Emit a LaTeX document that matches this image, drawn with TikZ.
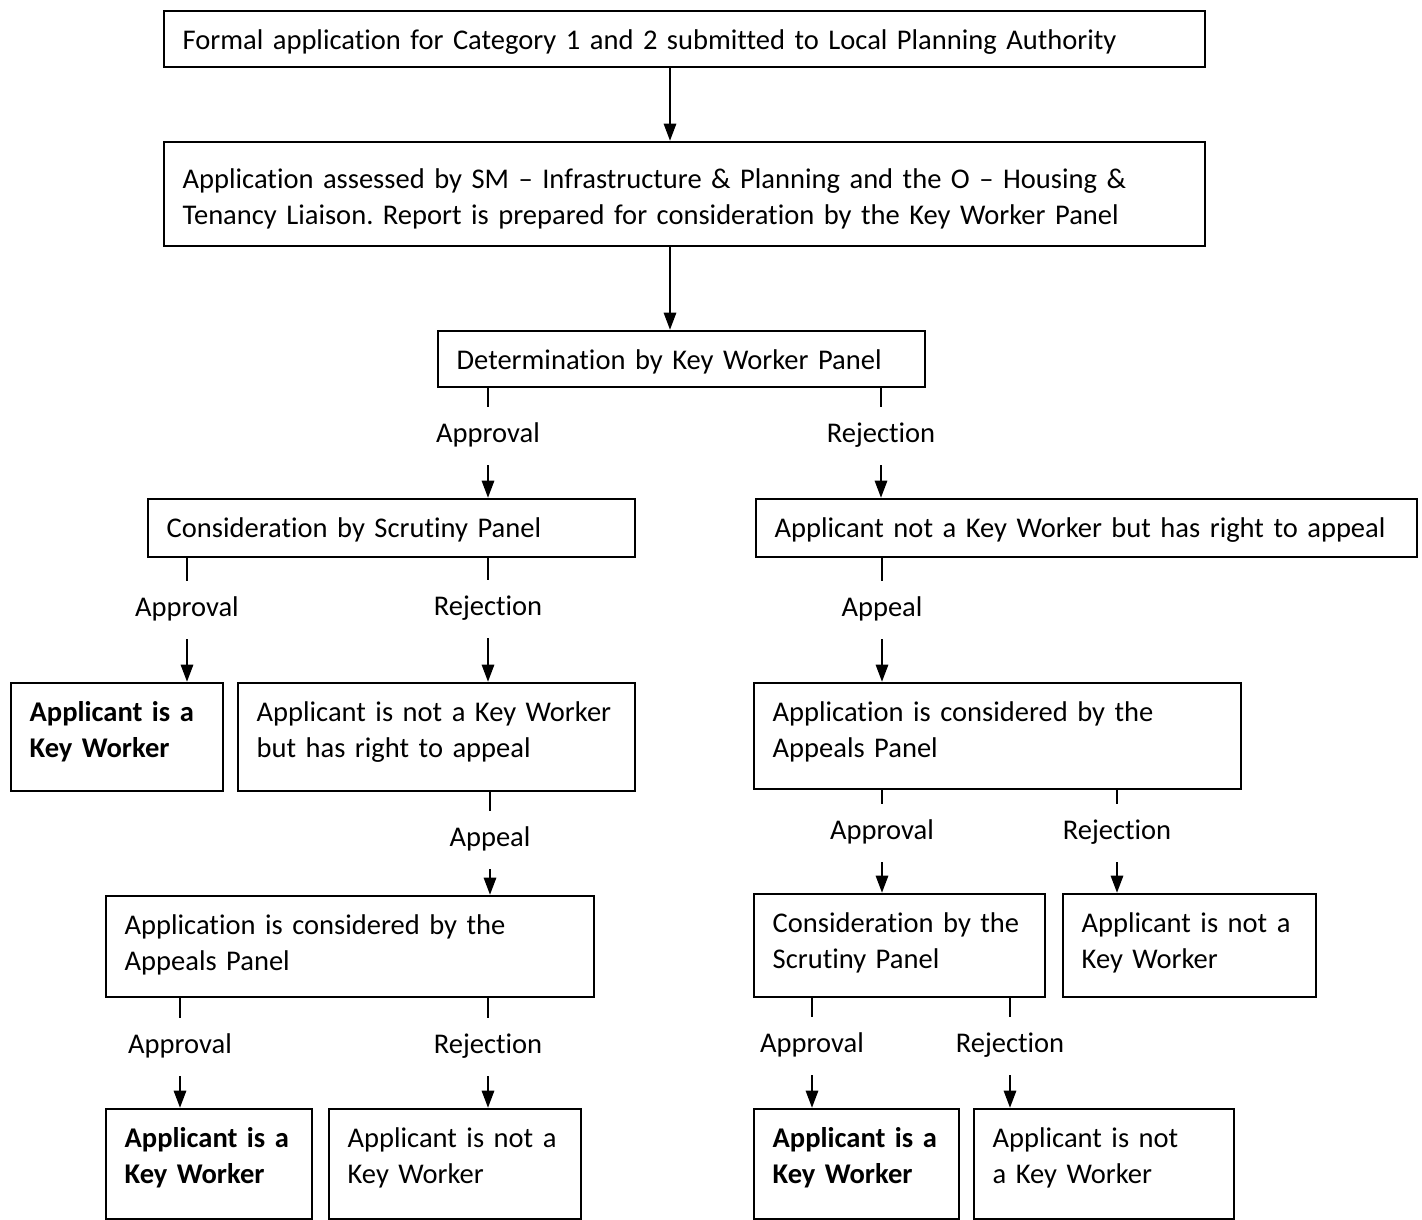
\documentclass[tikz,border=0pt]{standalone}
\usepackage{fontspec}
\setmainfont{Carlito}[Ligatures=NoCommon]
\usetikzlibrary{arrows.meta}

\newcommand{\chartfont}{\fontsize{10.7pt}{13.4pt}\selectfont\frenchspacing}

\tikzset{
  box/.style 2 args={draw, line width=0.75pt, anchor=north west, align=left,
    inner xsep=7pt, inner ysep=0pt, text width=#1*0.375pt-14pt,
    text height=14.6pt, text depth=#2*0.375pt-14.6pt, font=\chartfont},
  lbl/.style={inner xsep=1pt, inner ysep=5.7pt, text height=7.5pt, text depth=2.5pt,
    font=\chartfont},
  stub/.style={line width=1.1pt},
  arr/.style={line width=1.1pt, -{Triangle[length=6.5pt,width=4.5pt]}}
}

\begin{document}
\begin{tikzpicture}[x=0.375pt, y=-0.375pt]
  \useasboundingbox (0,0) rectangle (1422,1220);

  % top of the chart
  \node[box={1041}{56}] (formal) at (163,10) {Formal application for Category 1 and 2 submitted to Local Planning Authority};
  \node[box={1041}{104}, text height=17.6pt, text depth=21.4pt] (assess) at (163,141) {Application assessed by SM – Infrastructure \& Planning and the O – Housing \&\\Tenancy Liaison. Report is prepared for consideration by the Key Worker Panel};
  \node[box={487}{56}] (determ) at (437,330) {Determination by Key Worker Panel};

  \coordinate (trunk) at (670,0);
  \draw[arr] (formal.south -| trunk) -- (assess.north -| trunk);
  \draw[arr] (assess.south -| trunk) -- (determ.north -| trunk);

  % first split
  \node[box={487}{58}] (scrut) at (147,498) {Consideration by Scrutiny Panel};
  \node[box={661}{58}] (appealR) at (755,498) {Applicant not a Key Worker but has right to appeal};

  \node[lbl] (apprA) at (488,436) {Approval};
  \draw[stub] (determ.south -| apprA) -- (apprA.north);
  \draw[arr] (apprA.south) -- (scrut.north -| apprA);

  \node[lbl] (rejA) at (881,436) {Rejection};
  \draw[stub] (determ.south -| rejA) -- (rejA.north);
  \draw[arr] (rejA.south) -- (appealR.north -| rejA);

  % second row
  \node[box={212}{108}] (keyA) at (10,682) {\textbf{Applicant is a}\\\textbf{Key Worker}};
  \node[box={397}{108}] (notA) at (237,682) {Applicant is not a Key Worker\\but has right to appeal};
  \node[box={487}{106}] (appeals) at (753,682) {Application is considered by the\\Appeals Panel};

  \node[lbl] (apprB) at (187,610) {Approval};
  \draw[stub] (scrut.south -| apprB) -- (apprB.north);
  \draw[arr] (apprB.south) -- (keyA.north -| apprB);

  \node[lbl] (rejB) at (488,609) {Rejection};
  \draw[stub] (scrut.south -| rejB) -- (rejB.north);
  \draw[arr] (rejB.south) -- (notA.north -| rejB);

  \node[lbl] (appA) at (882,610) {Appeal};
  \draw[stub] (appealR.south -| appA) -- (appA.north);
  \draw[arr] (appA.south) -- (appeals.north -| appA);

  % third row
  \node[box={488}{101}] (appealsL) at (105,895) {Application is considered by the\\Appeals Panel};
  \node[box={291}{103}] (scrutR) at (753,893) {Consideration by the\\Scrutiny Panel};
  \node[box={253}{103}] (notR) at (1062,893) {Applicant is not a\\Key Worker};

  \node[lbl] (appB) at (490,840) {Appeal};
  \draw[stub] (notA.south -| appB) -- (appB.north);
  \draw[arr] (appB.south) -- (appealsL.north -| appB);

  \node[lbl] (apprC) at (882,833) {Approval};
  \draw[stub] (appeals.south -| apprC) -- (apprC.north);
  \draw[arr] (apprC.south) -- (scrutR.north -| apprC);

  \node[lbl] (rejC) at (1117,833) {Rejection};
  \draw[stub] (appeals.south -| rejC) -- (rejC.north);
  \draw[arr] (rejC.south) -- (notR.north -| rejC);

  % bottom row
  \node[box={206}{110}] (keyB) at (105,1108) {\textbf{Applicant is a}\\\textbf{Key Worker}};
  \node[box={252}{110}] (notB) at (328,1108) {Applicant is not a\\Key Worker};
  \node[box={205}{110}] (keyC) at (753,1108) {\textbf{Applicant is a}\\\textbf{Key Worker}};
  \node[box={260}{110}] (notC) at (973,1108) {Applicant is not\\a Key Worker};

  \node[lbl] (apprD) at (180,1047) {Approval};
  \draw[stub] (appealsL.south -| apprD) -- (apprD.north);
  \draw[arr] (apprD.south) -- (keyB.north -| apprD);

  \node[lbl] (rejD) at (488,1047) {Rejection};
  \draw[stub] (appealsL.south -| rejD) -- (rejD.north);
  \draw[arr] (rejD.south) -- (notB.north -| rejD);

  \node[lbl] (apprE) at (812,1046) {Approval};
  \draw[stub] (scrutR.south -| apprE) -- (apprE.north);
  \draw[arr] (apprE.south) -- (keyC.north -| apprE);

  \node[lbl] (rejE) at (1010,1046) {Rejection};
  \draw[stub] (scrutR.south -| rejE) -- (rejE.north);
  \draw[arr] (rejE.south) -- (notC.north -| rejE);
\end{tikzpicture}
\end{document}
